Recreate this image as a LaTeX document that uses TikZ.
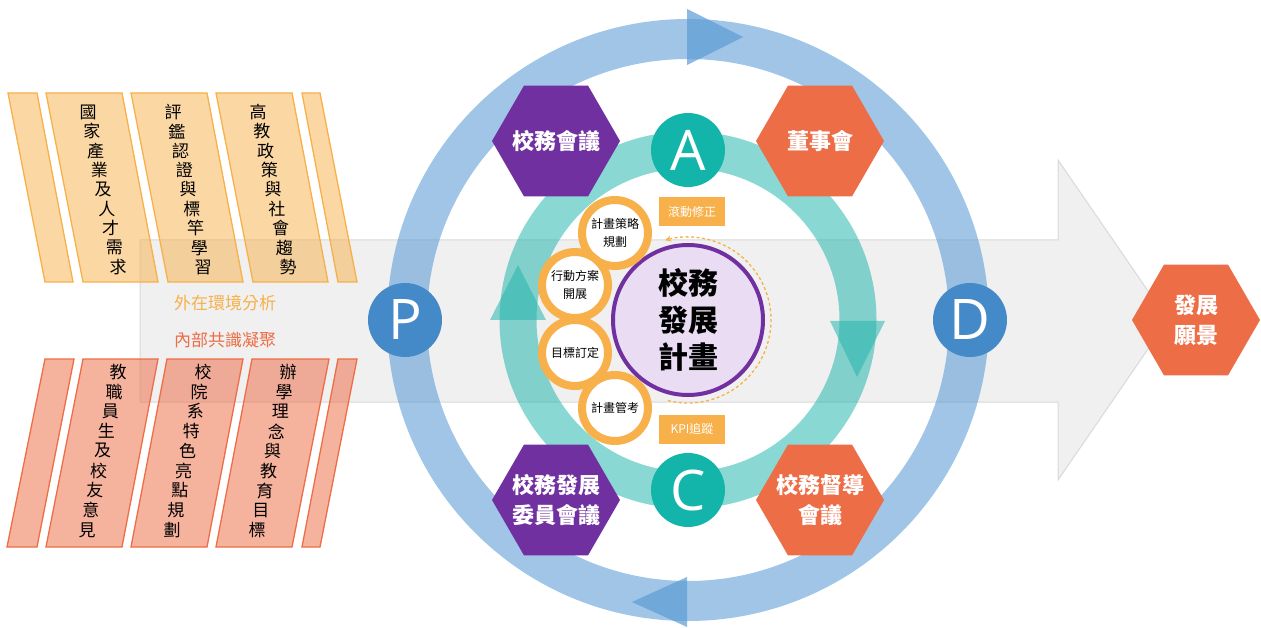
\documentclass[tikz,border=0pt]{standalone}
\usepackage{fontspec}
\setmainfont{Noto Sans CJK TC}
\newfontfamily\latinfont{Open Sans}
\usetikzlibrary{shapes.geometric,arrows.meta}
\definecolor{purp}{HTML}{7030A0}
\definecolor{oran}{HTML}{ED6D46}
\definecolor{gold}{HTML}{F7B04A}
\definecolor{blueR}{HTML}{5B9BD5}
\definecolor{blueC}{HTML}{4489C8}
\definecolor{tealR}{HTML}{22B5AB}
\definecolor{tealC}{HTML}{13B5AB}
\definecolor{grayA}{HTML}{F0F0F0}
\definecolor{grayB}{HTML}{D9D9D9}
\definecolor{lav}{HTML}{E9DCF3}
\newcommand{\vcolumn}[6]{%
  \foreach \ch [count=\i from 0] in {#6}
    \node[vchar] (#1-\i) at ({#2+\i*(#4-#2)/8},{#3+\i*(#5-#3)/8}) {\ch};}
\newcommand{\hexnode}[4]{%
  \node[hexshape, fill=#3] (#1) at (#2) {};
  \node[hextext] (#1-t) at (#1.center) {#4};}
\begin{document}
\begin{tikzpicture}[x=1pt,y=-1pt,
  hexshape/.style={regular polygon, regular polygon sides=6, minimum size=128pt,
    inner sep=0pt, outer sep=0pt},
  hextext/.style={inner sep=0pt, text=white, align=center,
    font=\fontsize{22}{30}\selectfont\bfseries},
  pdca/.style={circle, minimum size=74pt, inner sep=0pt, text=white,
    font=\latinfont\fontsize{56}{56}\selectfont},
  stagecirc/.style={circle, minimum size=66pt, inner sep=0pt, draw=gold,
    line width=8pt, fill=white, align=center, font=\fontsize{12}{18}\selectfont},
  tagbox/.style={rectangle, fill=gold, minimum width=66pt, minimum height=29pt,
    inner sep=0pt, text=white, font=\fontsize{12}{14}\selectfont},
  vchar/.style={inner sep=0pt, font=\fontsize{17}{17}\selectfont},
  toppanel/.style={fill=gold, fill opacity=0.5, draw=gold, line width=1.3pt},
  botpanel/.style={fill=oran, fill opacity=0.53, draw=oran, line width=1.3pt},
  sidetext/.style={inner sep=0pt, font=\fontsize{17}{17}\selectfont}
]
\useasboundingbox (0,0) rectangle (1261,628);

% big gray arrow
\filldraw[fill=grayA, draw=grayB, line width=1pt]
  (140,240) -- (1058,240) -- (1058,160) -- (1168,320) -- (1058,480)
  -- (1058,402) -- (140,402) -- cycle;

% top panels
\path[toppanel] (8,93) -- (37,93) -- (73,282) -- (45,282) -- cycle;
\path[toppanel] (46,93) -- (122,93) -- (158,282) -- (83,282) -- cycle;
\path[toppanel] (131,93) -- (207,93) -- (243,282) -- (168,282) -- cycle;
\path[toppanel] (216,93) -- (292,93) -- (328,282) -- (253,282) -- cycle;
\path[toppanel] (302,93) -- (320,93) -- (357,282) -- (338,282) -- cycle;
% bottom panels
\path[botpanel] (45,359) -- (74,359) -- (37,547) -- (7,547) -- cycle;
\path[botpanel] (83,359) -- (158,359) -- (122,547) -- (46,547) -- cycle;
\path[botpanel] (167,359) -- (243,359) -- (207,547) -- (131,547) -- cycle;
\path[botpanel] (252,359) -- (329,359) -- (292,547) -- (216,547) -- cycle;
\path[botpanel] (338,359) -- (357,359) -- (320,547) -- (302,547) -- cycle;

\vcolumn{ta}{88}{112}{118}{267}{國,家,產,業,及,人,才,需,求}
\vcolumn{tb}{173}{112}{203}{267}{評,鑑,認,證,與,標,竿,學,習}
\vcolumn{tc}{258}{112}{288}{267}{高,教,政,策,與,社,會,趨,勢}
\vcolumn{ba}{118}{372}{87}{530}{教,職,員,生,及,校,友,意,見}
\vcolumn{bb}{203}{372}{172}{530}{校,院,系,特,色,亮,點,規,劃}
\vcolumn{bc}{288}{372}{257}{530}{辦,學,理,念,與,教,育,目,標}

\node[sidetext, text=gold] (ext) at (225,303) {外在環境分析};
\node[sidetext, text=oran] (int) at (225,340) {內部共識凝聚};

% blue ring
\draw[line width=40pt, draw=blueR, draw opacity=0.58] (688,320) circle (281);
\fill[blueR, fill opacity=0.7] (687,9) -- (743,37) -- (687,65) -- cycle;
\fill[blueR, fill opacity=0.7] (687,577) -- (632,602) -- (687,627) -- cycle;

% teal ring
\draw[line width=37pt, draw=tealR, draw opacity=0.53] (688,320) circle (170);
\fill[tealR, fill opacity=0.53] (490,320) -- (546,320) -- (518,265) -- cycle;
\fill[tealR, fill opacity=0.53] (830,321) -- (885,321) -- (857,377) -- cycle;

% dashed arc
\draw[gold, line width=1.3pt, dash pattern=on 3pt off 2.5pt,
  -{Stealth[length=6pt,width=6pt]}]
  (688,320) ++(104:83) arc (104:-106:83);

% center
\node[circle, minimum size=150pt, inner sep=0pt, draw=purp, line width=4pt,
  fill=lav, align=center, font=\fontsize{30}{37}\selectfont\bfseries]
  (core) at (688,320) {校務\\發展\\計畫};

\node[stagecirc] (s1) at (615,233) {計畫策略\\規劃};
\node[stagecirc] (s2) at (575,285) {行動方案\\開展};
\node[stagecirc] (s3) at (575,353) {目標訂定};
\node[stagecirc] (s4) at (615,408) {計畫管考};

\node[tagbox] (roll) at (692,212) {滾動修正};
\node[tagbox] (kpi) at (692,429) {KPI追蹤};

% hexagons
\hexnode{h1}{556,141}{purp}{校務會議}
\hexnode{h2}{556,500}{purp}{校務發展\\委員會議}
\hexnode{h3}{820,141}{oran}{董事會}
\hexnode{h4}{820,500}{oran}{校務督導\\會議}
\hexnode{h5}{1196,320}{oran}{發展\\願景}

% PDCA
\node[pdca, fill=blueC] (P) at (405,320) {P};
\node[pdca, fill=blueC] (D) at (970,320) {D};
\node[pdca, fill=tealC] (A) at (688,150) {A};
\node[pdca, fill=tealC] (C) at (688,490) {C};
\end{tikzpicture}
\end{document}
